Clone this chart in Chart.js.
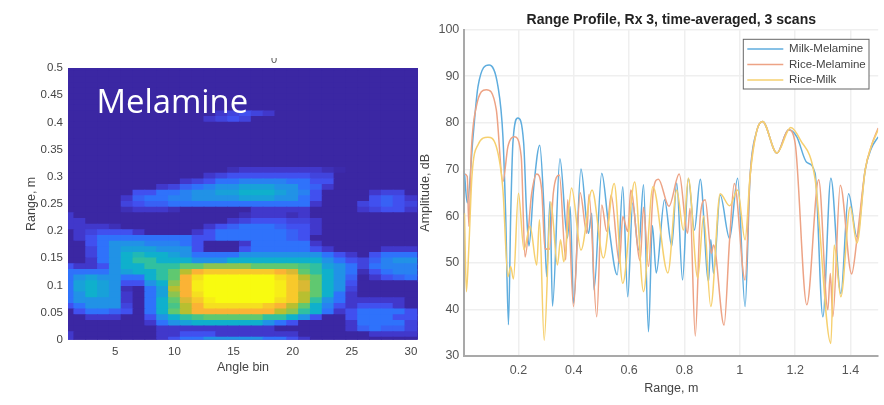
<!DOCTYPE html>
<html>
<head>
<meta charset="utf-8">
<script src="https://cdn.jsdelivr.net/npm/chart.js@4"></script>
<style>
html,body{margin:0;padding:0;background:#fff;width:884px;height:405px;overflow:hidden}
canvas{position:absolute;top:0}
#heatCanvas{left:0;filter:blur(0.7px)}
#lineCanvas{left:418px;filter:blur(0.55px)}
#caption{position:absolute;left:96.5px;top:79px;font:32.8px/44px "Open Sans",sans-serif;color:#fff}
#cut{position:absolute;left:268px;top:58px;width:12px;height:6px;overflow:hidden}
#cut span{position:absolute;left:3px;top:-5px;font:11px/13px "Liberation Sans",sans-serif;color:#555}
</style>
</head>
<body>
<canvas id="heatCanvas" width="430" height="405"></canvas>
<canvas id="lineCanvas" width="466" height="405"></canvas>
<div id="caption">Melamine</div>
<div id="cut"><span>0</span></div>
<script>
const SANS = '"Liberation Sans", Arial, sans-serif';

/* ---------- left panel data ---------- */
const angleTicks = [5, 10, 15, 20, 25, 30];
const heatRangeTicks = [0, 0.05, 0.1, 0.15, 0.2, 0.25, 0.3, 0.35, 0.4, 0.45, 0.5];
const angleBins = [1,2,3,4,5,6,7,8,9,10,11,12,13,14,15,16,17,18,19,20,21,22,23,24,25,26,27,28,29,30];
const rangeStep = 0.5 / 48;
const blank = [0,0,0,0,0,0,0,0,0,0,0,0,0,0,0,0,0,0,0,0,0,0,0,0,0,0,0,0,0,0];
/* one row per range bin, lowest range first; levels 0 (dark blue) to 11 (yellow) */
const heatRows = [
 [1,0,0,0,0, 0,0,0,1,2, 3,3,4,4,4, 4,4,3,3,2, 1,0,0,0,0, 0,0,0,0,0],
 [1,0,0,0,0, 0,0,0,1,1, 2,2,2,1,1, 1,1,1,1,1, 0,0,0,0,0, 0,1,1,1,1],
 [0,0,0,0,0, 0,0,0,1,1, 1,1,1,1,1, 1,1,1,0,0, 0,0,0,0,1, 2.5,3,2.5,2.5,1.5],
 [0,0,0,0,0, 0,0,1,3,4, 4.5,5,5,5,5, 5,5,4,3,2, 0,0,0,0,1, 3,3,3,3,1.5],
 [0,0,1,1,1, 0,0,2,4,5, 6,6.5,7,7,7, 7,7,6,6,5, 4,2,0,0,2, 3,3,3,2,2],
 [0,2,3,3,2.5, 2,0,3,5,7, 8,9,9,9,9, 9,9,9,8,7.5, 6,5,3,1,2, 3,3,3,3,2],
 [2,3,4,4,4, 1.5,0,3,5,6.5, 8,9,10,10,10, 10,10,9.5,9,8, 7,5,3.5,2,1, 2,2,2,1,0],
 [3,4,4,4,4, 1,0,3,5,7, 8.5,9.5,10.5,11,11, 11,11,11,10,9.5, 8,6,4,3,1, 1,1,1,1,0],
 [3,4,5,4.5,4, 1,0,3,4.5,7.5, 9,10,11,11,11, 11,11,11,10.5,9.5, 8,7,5,3,1, 0,0,0,0,0],
 [3,4.5,5,4.5,4, 0.5,0,3,4.5,8, 9,10.5,11,11,11, 11,11,11,10.5,9.5, 8.5,7,5,4,1.5, 0,0,0,0,0],
 [3,4.5,5,4.5,4, 2,2,4,5,7.5, 9,10.5,11,11,11, 11,11,11,10.5,9.5, 8.5,7,5,4,2, 0,0,0,0,0],
 [3,4,4.5,4,4, 3,3,5,6,7, 9,10,11,11,11, 11,11,11,10,9.5, 8,7,5,4,2.5, 0,1,2,2.5,3],
 [3,3,3,3,4, 4.5,5,5,6,7, 8,9,9.5,9.5,9.5, 9.5,9.5,9.5,9,8.5, 7,6,5,4,3, 0.5,2,3,3.5,3.5],
 [2,1,1,2,4, 5,5,6,6,6, 7,7,7.5,7.5,7.5, 7.5,7,7,7,7, 6.5,6,4.5,4,3, 1.5,3,3.5,3.5,3.5],
 [0,0,1,3,4, 5,6,6,5,5, 5,4,4,4,5, 5,5,5,5,5, 5,5,4,3,2, 1.5,2.5,3.5,4,4],
 [0,0,1.5,3,4, 5,5.5,5,5,4.5, 4,3,3,3,3, 4,4,4,4,4, 4,4,3,2,1, 0,2,3,3,3],
 [0,0,1.5,3,4, 4.5,4.5,4.5,4,4, 4,2,0,0,0, 2,3,3,3,3, 3,2,1,0,0, 0,0,1,1,1],
 [0,0,2,3,4, 4,4,3.5,3.5,3.5, 3,2,0,0,0, 1,3,3,3,3, 3,1,0,0,0, 0,0,0,0,0],
 [0,1,2,3,3, 3,3,3,3,3, 3,2,2,3,3, 3,3,3,3,2.5, 2,0,0,0,0, 0,0,0,0,0],
 [0,1,1.5,2,2, 2,1,0,0,0, 0,1,2,3,3, 3,3,3,3,2.5, 2,1,0,0,0, 0,0,0,0,0],
 [1,1,1,1,0.5, 0,0,0,0,0, 0,0,1,2,2.5, 3,3,3,2.5,2, 2,1,0,0,0, 0,0,0,0,0],
 [1,1,0,0,0, 0,0,0,0,0, 0,0,0,0,1, 1.5,2,2,2,1.5, 1.5,1,0,0,0, 0,0,0,0,0],
 [1,0,0,0,0, 0,0,0,0,0, 0,0,0,0,0, 0.5,1,1,1,0.5, 1,0,0,0,0, 0,0,0,0,0],
 [0,0,0,0,0, 0.5,1,1,1,0.5, 0,0,0,0,0, 0,1,1,1,1, 1,0,0,0,0, 1,1.5,2,2,1],
 [0,0,0,0,0, 1.5,2,2.5,2.5,3, 3,3,3,3,3, 3,3,3,3,3, 3,1,0,0,0, 1.5,2,2.5,2,1.5],
 [0,0,0,0,0, 1,2.5,3,3,3.5, 3.5,4,4,4,4, 4.5,4.5,4.5,4,4, 3,2,0,0,0, 0,2,2.5,2,1],
 [0,0,0,0,0, 0,2,2,3,3, 3.5,4,4,4.5,4.5, 5,5,5,4.5,4, 3.5,2,0,0,0, 0,1,1.5,1.5,0],
 [0,0,0,0,0, 0,0,0,1,1.5, 2.5,3,3.5,4,4, 4.5,4.5,4.5,4,4, 3,2.5,1,0,0, 0,0,0,0,0],
 [0,0,0,0,0, 0,0,0,0,0, 1,1.5,2,3,3, 3.5,3.5,3.5,3.5,3, 3,2,2,0,0, 0,0,0,0,0],
 [0,0,0,0,0, 0,0,0,0,0, 0,0,1,1.5,2, 2,2,2,2,2, 2,1.5,1.5,0,0, 0,0,0,0,0],
 [0,0,0,0,0, 0,0,0,0,0, 0,0,0,0,0.5, 1,1,1,1,1, 1,1,0.5,0.2,0, 0,0,0,0,0],
 blank, blank, blank, blank, blank, blank, blank, blank,
 [0,0,0,0,0, 0,0,0,0,0, 0,0,1,1.5,2, 1.5,0,0,0,0, 0,0,0,0,0, 0,0,0,0,0],
 [0,0,0,0,0, 0,0,0,0,0, 0,0,0,1,1.5, 2,1.5,1,0,0, 0,0,0,0,0, 0,0,0,0,0],
 blank, blank, blank, blank, blank, blank, blank, blank
];
const levelColors = ['#3b27a3','#4138cb','#4150ef','#2f72fb','#2192e6','#0fb0cc','#30c0a0','#60c870','#b8bf30','#fbb335','#f5df20','#f8fb10'];

/* ---------- right panel data ---------- */
const rangeTicks = [0.2, 0.4, 0.6, 0.8, 1, 1.2, 1.4];
const ampTicks = [30, 40, 50, 60, 70, 80, 90, 100];

const milkMelRange = [0.005,0.015,0.036,0.054,0.094,0.126,0.144,0.154,0.164,0.172,0.18,0.198,0.219,0.229,0.238,0.255,0.277,0.292,0.302,0.314,0.323,0.35,0.377,0.387,0.399,0.426,0.453,0.465,0.473,0.501,0.525,0.557,0.577,0.595,0.613,0.634,0.652,0.67,0.684,0.698,0.728,0.754,0.772,0.793,0.814,0.836,0.857,0.887,0.895,0.905,0.929,0.963,0.992,1.019,1.037,1.06,1.082,1.134,1.176,1.206,1.242,1.272,1.3,1.329,1.365,1.393,1.423,1.453,1.475,1.5];
const milkMelAmp   = [69.2,62.8,77,87.8,92.4,87.8,77,60,36.7,60,75.6,81,75.6,61.3,53.6,66,75.2,62,47,63.1,40.7,72.3,55.3,62,41.3,70.1,56.3,60.6,44.2,69.2,58.5,47.4,66.3,42.7,62.8,52.7,66.7,35.2,58,47.8,63.5,53.6,67.1,46.3,68.1,57,67.9,46,54.9,47.7,64.5,55.2,68.1,40.6,68.5,78,80.3,73.5,78.5,77,71.5,69.2,38.4,68.1,43.4,64.8,55.6,69.9,74.5,77];

const riceMelRange = [0.005,0.015,0.021,0.03,0.048,0.084,0.12,0.144,0.162,0.186,0.21,0.224,0.248,0.266,0.284,0.296,0.312,0.326,0.348,0.371,0.378,0.399,0.423,0.447,0.455,0.483,0.501,0.519,0.535,0.565,0.577,0.595,0.606,0.64,0.652,0.67,0.688,0.706,0.744,0.781,0.811,0.82,0.839,0.857,0.875,0.897,0.905,0.943,0.963,0.98,1.019,1.037,1.06,1.082,1.134,1.176,1.2,1.242,1.285,1.318,1.327,1.336,1.363,1.404,1.423,1.453,1.475,1.5];
const riceMelAmp   = [69,68.5,57.8,74.2,83.5,87.1,82.8,67.4,74.9,77,72.8,51.2,64.9,69,65.6,53,52.9,64.9,68.8,50.6,63.5,40.6,65,56.3,64.6,38.4,62.4,56.7,64.5,49.9,59.9,56.7,65.6,50.4,61.9,49.2,65.8,67.9,62.1,69,56.3,61.7,34.3,59.9,63.5,52,53.8,36.6,54.9,67,46.3,68.5,78,80.3,73.5,78.5,75.6,41,67.8,39.9,47.7,38.4,66.6,47.6,54.9,69.9,75,78.9];

const riceMilkRange = [0.005,0.012,0.021,0.032,0.054,0.09,0.12,0.144,0.162,0.172,0.182,0.2,0.22,0.242,0.266,0.276,0.293,0.317,0.341,0.352,0.364,0.392,0.426,0.466,0.507,0.546,0.577,0.62,0.652,0.686,0.74,0.772,0.796,0.814,0.848,0.869,0.895,0.929,0.963,0.992,1.019,1.037,1.06,1.082,1.134,1.184,1.218,1.272,1.329,1.341,1.365,1.399,1.423,1.453,1.475,1.5];
const riceMilkAmp   = [60.6,43.8,53.5,68.5,75.3,76.9,74.9,65.6,47,49.2,46.5,64.9,52.8,57.8,49.5,59.2,33.4,63,49.5,54.9,50.2,66,52.7,65.6,51,67,45.6,67.3,43.8,66.3,47.8,65.6,57,68.1,46.7,60,40.6,64.8,62.2,65.6,54.9,68.5,78,80.3,73.5,79,76.4,67.9,32.7,53.8,42.7,62,54.2,69.9,75,78.5];

const seriesNames = ['Milk-Melamine', 'Rice-Melamine', 'Rice-Milk'];
const seriesColors = ['#5fadde', '#eda385', '#f6d06f'];

/* ---------- helpers ---------- */
function hexToRgb(h){ return [1,3,5].map(i => parseInt(h.slice(i,i+2),16)); }
function levelColor(v){
  const a = Math.floor(v), b = Math.min(a+1, levelColors.length-1), t = v-a;
  const ca = hexToRgb(levelColors[a]), cb = hexToRgb(levelColors[b]);
  return 'rgb(' + ca.map((c,i) => Math.round(c+(cb[i]-c)*t)).join(',') + ')';
}
function toPairs(xs, ys){ return xs.map((x,i) => ({x:x, y:ys[i]})); }
function setTicks(list){ return axis => { axis.ticks = list.map(v => ({value:v})); }; }

/* paints the lowest level under the cells so their anti-aliased joins never show white */
const heatBase = {
  id: 'heatBase',
  beforeDatasetsDraw(chart){
    const a = chart.chartArea, c = chart.ctx;
    c.save();
    c.fillStyle = levelColors[0];
    c.fillRect(a.left, a.top, a.width, a.height);
    c.restore();
  }
};

/* ---------- left: heat map as one floating-bar dataset per range bin ---------- */
new Chart(document.getElementById('heatCanvas'), {
  type: 'bar',
  data: {
    datasets: heatRows.map((row, k) => ({
      data: angleBins.map(bin => ({x: bin, y: [(k-0.8)*rangeStep, (k+0.5)*rangeStep]})),
      backgroundColor: row.map(levelColor),
      borderWidth: 0,
      grouped: false,
      barPercentage: 1.08,
      categoryPercentage: 1
    }))
  },
  options: {
    responsive: false, animation: false, events: [],
    layout: {padding: {left: 24, top: 68, right: 12, bottom: 30}},
    plugins: {legend: {display: false}, title: {display: false}, tooltip: {enabled: false}},
    scales: {
      x: {
        type: 'linear', min: 1, max: 30.6, offset: false,
        grid: {display: false, tickLength: 0}, border: {display: false},
        afterBuildTicks: setTicks(angleTicks),
        afterFit: s => { s.height = 35.3; },
        ticks: {color: '#444', font: {family: SANS, size: 11.5}, padding: 5, maxRotation: 0, autoSkip: false, callback: v => String(v)},
        title: {display: true, text: 'Angle bin', color: '#444', font: {family: SANS, size: 12.5}, padding: 0}
      },
      y: {
        type: 'linear', min: 0, max: 0.5,
        grid: {display: false, tickLength: 0}, border: {display: false},
        afterBuildTicks: setTicks(heatRangeTicks),
        afterFit: s => { s.width = 44; },
        ticks: {color: '#444', font: {family: SANS, size: 11.5}, padding: 5, autoSkip: false, callback: v => String(v)},
        title: {display: true, text: 'Range, m', color: '#444', font: {family: SANS, size: 12.5}, padding: 0}
      }
    }
  },
  plugins: [heatBase]
});

/* ---------- right: range profile ---------- */
const frameWidth = 125.7, frameHeight = 49.7;
const legendFrame = {
  id: 'legendFrame',
  afterLayout(chart){
    const lg = chart.legend;
    const left = 743.3 - 418, top = 39.3;
    lg.left = left; lg.right = left + frameWidth; lg.top = top; lg.bottom = top + 90;
    if (!lg._framed){
      lg._framed = true;
      const drawLegend = lg.draw;
      lg.draw = function(){
        const c = this.ctx;
        c.save();
        c.fillStyle = '#fff';
        c.strokeStyle = '#666';
        c.lineWidth = 1;
        c.fillRect(this.left, this.top, frameWidth, frameHeight);
        c.strokeRect(this.left, this.top, frameWidth, frameHeight);
        c.restore();
        drawLegend.call(this);
      };
    }
  }
};

const lineSets = [[milkMelRange, milkMelAmp], [riceMelRange, riceMelAmp], [riceMilkRange, riceMilkAmp]];
new Chart(document.getElementById('lineCanvas'), {
  type: 'line',
  data: {
    datasets: lineSets.map((s, i) => ({
      label: seriesNames[i],
      data: toPairs(s[0], s[1]),
      borderColor: seriesColors[i],
      backgroundColor: seriesColors[i],
      borderWidth: 1.5,
      pointRadius: 0,
      cubicInterpolationMode: 'monotone',
      order: 3 - i
    }))
  },
  options: {
    responsive: false, animation: false, events: [],
    layout: {padding: {left: 0, top: 12, right: 5.8, bottom: 8.5}},
    plugins: {
      tooltip: {enabled: false},
      title: {display: true, fullSize: false, text: 'Range Profile, Rx 3, time-averaged, 3 scans', color: '#222',
        font: {family: SANS, size: 14, weight: 'bold'}, padding: {top: 0, bottom: 0.7}},
      legend: {
        position: 'chartArea',
        align: 'start',
        labels: {usePointStyle: true, pointStyle: 'line', pointStyleWidth: 36, color: '#444',
          font: {family: SANS, size: 11.5}, padding: 4,
          sort: (a, b) => a.datasetIndex - b.datasetIndex}
      }
    },
    scales: {
      x: {
        type: 'linear', min: 0.0044, max: 1.5,
        grid: {color: '#efefef', lineWidth: 1.5, tickLength: 0},
        border: {color: '#a9a9a9', width: 2},
        afterBuildTicks: setTicks(rangeTicks),
        afterFit: s => { s.height = 40.5; },
        ticks: {color: '#555', font: {family: SANS, size: 12.5}, padding: 7, maxRotation: 0, autoSkip: false, callback: v => String(v)},
        title: {display: true, text: 'Range, m', color: '#444', font: {family: SANS, size: 12.5}, padding: 0}
      },
      y: {
        type: 'linear', min: 30, max: 100,
        grid: {color: '#efefef', lineWidth: 1.5, tickLength: 0},
        border: {color: '#a9a9a9', width: 2},
        afterBuildTicks: setTicks(ampTicks),
        afterFit: s => { s.width = 46.3; },
        ticks: {color: '#555', font: {family: SANS, size: 12.5}, padding: 5, autoSkip: false, callback: v => String(v)},
        title: {display: true, text: 'Amplitude, dB', color: '#444', font: {family: SANS, size: 12.5}, padding: 0}
      }
    }
  },
  plugins: [legendFrame]
});
</script>
</body>
</html>
